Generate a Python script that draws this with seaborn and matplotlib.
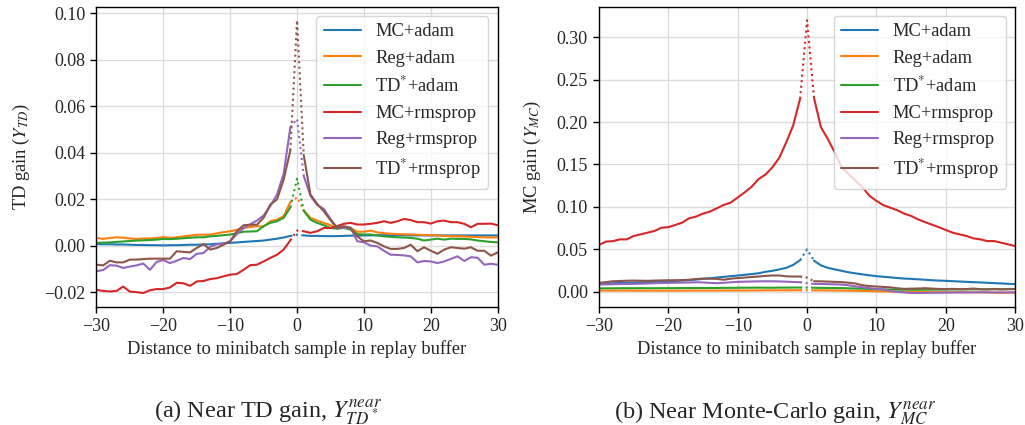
import matplotlib
matplotlib.use("Agg")
import matplotlib.pyplot as plt
import numpy as np
import pandas as pd
import seaborn as sns

# ---------------- data ----------------
distance = list(range(-30, 31))
series_names = ["MC+adam", "Reg+adam", "TD$^{*}$+adam",
                "MC+rmsprop", "Reg+rmsprop", "TD$^{*}$+rmsprop"]

# (a) Near TD gain
td_mc_adam = [0.0007, 0.0006, 0.0006, 0.0005, 0.0005, 0.0004, 0.0003, 0.0003, 0.0002, 0.0002,
              0.0001, 0.0002, 0.0002, 0.0003, 0.0004, 0.0004, 0.0005, 0.0006, 0.0008, 0.0010,
              0.0012, 0.0014, 0.0016, 0.0018, 0.0020, 0.0022, 0.0026, 0.0030, 0.0035, 0.0042,
              0.0047,
              0.0044, 0.0042, 0.0042, 0.0041, 0.0041, 0.0041, 0.0042, 0.0043, 0.0043, 0.0044,
              0.0044, 0.0045, 0.0045, 0.0045, 0.0045, 0.0045, 0.0044, 0.0044, 0.0044, 0.0044,
              0.0044, 0.0044, 0.0044, 0.0044, 0.0044, 0.0044, 0.0044, 0.0044, 0.0044, 0.0044]
td_reg_adam = [0.0033, 0.0029, 0.0033, 0.0036, 0.0034, 0.0031, 0.0029, 0.0031, 0.0031, 0.0033,
               0.0037, 0.0033, 0.0036, 0.0040, 0.0043, 0.0047, 0.0047, 0.0047, 0.0053, 0.0058,
               0.0062, 0.0068, 0.0076, 0.0080, 0.0084, 0.0082, 0.0105, 0.0112, 0.0127, 0.0188,
               0.0208,
               0.0152, 0.0120, 0.0108, 0.0098, 0.0088, 0.0077, 0.0080, 0.0076, 0.0060, 0.0060,
               0.0065, 0.0057, 0.0054, 0.0051, 0.0050, 0.0049, 0.0048, 0.0047, 0.0046, 0.0045,
               0.0044, 0.0042, 0.0041, 0.0040, 0.0040, 0.0038, 0.0037, 0.0036, 0.0035, 0.0036]
td_td_adam = [0.0012, 0.0013, 0.0014, 0.0016, 0.0018, 0.0020, 0.0022, 0.0023, 0.0024, 0.0026,
              0.0029, 0.0028, 0.0030, 0.0032, 0.0034, 0.0036, 0.0036, 0.0040, 0.0042, 0.0045,
              0.0048, 0.0053, 0.0060, 0.0061, 0.0062, 0.0084, 0.0098, 0.0105, 0.0120, 0.0165,
              0.0288,
              0.0150, 0.0112, 0.0098, 0.0088, 0.0076, 0.0073, 0.0076, 0.0069, 0.0050, 0.0048,
              0.0048, 0.0044, 0.0040, 0.0038, 0.0036, 0.0035, 0.0033, 0.0030, 0.0022, 0.0026,
              0.0030, 0.0026, 0.0030, 0.0029, 0.0029, 0.0027, 0.0022, 0.0019, 0.0016, 0.0014]
td_mc_rms = [-0.0190, -0.0195, -0.0197, -0.0195, -0.0176, -0.0198, -0.0200, -0.0204, -0.0192, -0.0187,
             -0.0187, -0.0180, -0.0160, -0.0162, -0.0173, -0.0154, -0.0152, -0.0144, -0.0140, -0.0132,
             -0.0125, -0.0122, -0.0104, -0.0084, -0.0082, -0.0068, -0.0053, -0.0039, -0.0017, 0.0023,
             0.0065,
             0.0062, 0.0055, 0.0062, 0.0076, 0.0076, 0.0084, 0.0094, 0.0098, 0.0091, 0.0091,
             0.0094, 0.0098, 0.0105, 0.0098, 0.0105, 0.0115, 0.0110, 0.0101, 0.0101, 0.0095,
             0.0105, 0.0108, 0.0101, 0.0101, 0.0094, 0.0079, 0.0094, 0.0094, 0.0095, 0.0088]
td_reg_rms = [-0.0110, -0.0105, -0.0084, -0.0086, -0.0096, -0.0090, -0.0085, -0.0077, -0.0104, -0.0070,
              -0.0062, -0.0075, -0.0065, -0.0053, -0.0058, -0.0035, -0.0032, -0.0005, 0.0005, 0.0009,
              0.0019, 0.0050, 0.0075, 0.0092, 0.0108, 0.0130, 0.0170, 0.0220, 0.0310, 0.0510,
              0.0545,
              0.0300, 0.0215, 0.0175, 0.0158, 0.0115, 0.0076, 0.0076, 0.0078, 0.0019, 0.0015,
              0.0000, -0.0003, -0.0022, -0.0039, -0.0040, -0.0042, -0.0046, -0.0072, -0.0066, -0.0068,
              -0.0075, -0.0068, -0.0057, -0.0046, -0.0066, -0.0050, -0.0052, -0.0082, -0.0078, -0.0082]
td_td_rms = [-0.0082, -0.0085, -0.0065, -0.0072, -0.0072, -0.0060, -0.0060, -0.0058, -0.0056, -0.0056,
             -0.0056, -0.0056, -0.0024, -0.0027, -0.0029, -0.0010, 0.0007, -0.0017, -0.0010, 0.0004,
             0.0019, 0.0062, 0.0088, 0.0090, 0.0090, 0.0120, 0.0177, 0.0199, 0.0285, 0.0410,
             0.0970,
             0.0390, 0.0220, 0.0180, 0.0148, 0.0110, 0.0076, 0.0084, 0.0076, 0.0040, 0.0019,
             0.0022, 0.0012, -0.0003, -0.0014, -0.0014, -0.0010, 0.0004, -0.0024, -0.0007, -0.0022,
             -0.0035, -0.0017, -0.0007, -0.0010, -0.0013, -0.0007, -0.0022, -0.0022, -0.0043, -0.0029]

# (b) Near Monte-Carlo gain
mc_mc_adam = [0.0095, 0.0097, 0.0099, 0.0101, 0.0103, 0.0105, 0.0108, 0.0112, 0.0116, 0.0119,
              0.0122, 0.0126, 0.0130, 0.0136, 0.0142, 0.0150, 0.0158, 0.0166, 0.0174, 0.0182,
              0.0190, 0.0198, 0.0207, 0.0216, 0.0233, 0.0245, 0.0262, 0.0280, 0.0315, 0.0370,
              0.0498,
              0.0365, 0.0310, 0.0280, 0.0262, 0.0245, 0.0228, 0.0215, 0.0203, 0.0192, 0.0182,
              0.0175, 0.0168, 0.0160, 0.0154, 0.0150, 0.0145, 0.0140, 0.0134, 0.0130, 0.0127,
              0.0123, 0.0119, 0.0115, 0.0111, 0.0108, 0.0104, 0.0100, 0.0096, 0.0092, 0.0088]
mc_reg_adam = [0.0012, 0.0012, 0.0012, 0.0012, 0.0012, 0.0011, 0.0011, 0.0011, 0.0011, 0.0011,
               0.0011, 0.0011, 0.0011, 0.0012, 0.0012, 0.0012, 0.0012, 0.0012, 0.0013, 0.0013,
               0.0013, 0.0013, 0.0014, 0.0014, 0.0015, 0.0015, 0.0015, 0.0015, 0.0016, 0.0016,
               0.0016,
               0.0015, 0.0015, 0.0014, 0.0013, 0.0012, 0.0011, 0.0010, 0.0008, 0.0006, 0.0004,
               0.0002, 0.0000, -0.0002, -0.0003, -0.0004, -0.0004, -0.0005, -0.0005, -0.0006, -0.0006,
               -0.0006, -0.0007, -0.0007, -0.0008, -0.0009, -0.0010, -0.0012, -0.0014, -0.0013, -0.0012]
mc_td_adam = [0.0038, 0.0039, 0.0039, 0.0040, 0.0040, 0.0040, 0.0041, 0.0040, 0.0040, 0.0041,
              0.0041, 0.0041, 0.0042, 0.0042, 0.0042, 0.0043, 0.0043, 0.0043, 0.0044, 0.0044,
              0.0045, 0.0046, 0.0046, 0.0047, 0.0046, 0.0046, 0.0047, 0.0047, 0.0048, 0.0048,
              0.0048,
              0.0045, 0.0044, 0.0043, 0.0042, 0.0041, 0.0039, 0.0037, 0.0034, 0.0031, 0.0028,
              0.0026, 0.0024, 0.0023, 0.0022, 0.0022, 0.0022, 0.0023, 0.0023, 0.0024, 0.0024,
              0.0025, 0.0026, 0.0026, 0.0027, 0.0027, 0.0028, 0.0028, 0.0029, 0.0030, 0.0030]
mc_mc_rms = [0.0550, 0.0590, 0.0595, 0.0616, 0.0616, 0.0656, 0.0675, 0.0695, 0.0715, 0.0754,
             0.0760, 0.0786, 0.0814, 0.0865, 0.0885, 0.0920, 0.0944, 0.0983, 0.1023, 0.1050,
             0.1110, 0.1170, 0.1236, 0.1327, 0.1380, 0.1465, 0.1580, 0.1760, 0.1960, 0.2275,
             0.3200,
             0.2287, 0.1940, 0.1800, 0.1640, 0.1465, 0.1386, 0.1307, 0.1230, 0.1130, 0.1070,
             0.1020, 0.0990, 0.0960, 0.0920, 0.0893, 0.0853, 0.0820, 0.0790, 0.0760, 0.0727,
             0.0695, 0.0675, 0.0656, 0.0628, 0.0616, 0.0596, 0.0596, 0.0577, 0.0557, 0.0537]
mc_reg_rms = [0.0083, 0.0085, 0.0087, 0.0089, 0.0090, 0.0091, 0.0093, 0.0096, 0.0099, 0.0101,
              0.0103, 0.0105, 0.0106, 0.0108, 0.0110, 0.0108, 0.0103, 0.0099, 0.0104, 0.0110,
              0.0115, 0.0117, 0.0119, 0.0121, 0.0122, 0.0122, 0.0120, 0.0117, 0.0113, 0.0111,
              0.0100,
              0.0091, 0.0090, 0.0088, 0.0086, 0.0083, 0.0075, 0.0062, 0.0051, 0.0040, 0.0030,
              0.0024, 0.0008, -0.0004, -0.0010, -0.0016, -0.0017, -0.0016, -0.0014, -0.0013, -0.0012,
              -0.0011, -0.0010, -0.0010, -0.0009, -0.0008, -0.0009, -0.0010, -0.0010, -0.0009, -0.0008]
mc_td_rms = [0.0103, 0.0112, 0.0122, 0.0125, 0.0128, 0.0130, 0.0128, 0.0127, 0.0130, 0.0132,
             0.0134, 0.0134, 0.0136, 0.0140, 0.0148, 0.0154, 0.0152, 0.0150, 0.0140, 0.0152,
             0.0160, 0.0165, 0.0172, 0.0178, 0.0185, 0.0190, 0.0190, 0.0180, 0.0178, 0.0178,
             0.0165,
             0.0122, 0.0121, 0.0118, 0.0115, 0.0112, 0.0105, 0.0095, 0.0075, 0.0065, 0.0060,
             0.0055, 0.0050, 0.0040, 0.0032, 0.0035, 0.0036, 0.0040, 0.0036, 0.0031, 0.0030,
             0.0032, 0.0028, 0.0030, 0.0036, 0.0028, 0.0025, 0.0031, 0.0025, 0.0028, 0.0030]

td_series = [td_mc_adam, td_reg_adam, td_td_adam, td_mc_rms, td_reg_rms, td_td_rms]
mc_series = [mc_mc_adam, mc_reg_adam, mc_td_adam, mc_mc_rms, mc_reg_rms, mc_td_rms]

ylabels = ["TD gain ($Y_{TD}$)", "MC gain ($Y_{MC}$)"]
xlabel = "Distance to minibatch sample in replay buffer"
captions = ["(a) Near TD gain, $Y^{near}_{TD^*}$",
            "(b) Near Monte-Carlo gain, $Y^{near}_{MC}$"]

# ---------------- style ----------------
sns.set_theme(style="whitegrid")
plt.rcParams["font.family"] = ["Liberation Serif", "DejaVu Serif"]
plt.rcParams["mathtext.fontset"] = "stix"
plt.rcParams["axes.edgecolor"] = "black"
plt.rcParams["axes.linewidth"] = 1.0

palette = sns.color_palette("tab10", 6)

fig = plt.figure(figsize=(10.25, 4.25), dpi=100)
ax_left = fig.add_axes([0.0941, 0.2784, 0.3914, 0.7059])
ax_right = fig.add_axes([0.5844, 0.2784, 0.4059, 0.7059])


def long_frame(values_list):
    rows = []
    for name, vals in zip(series_names, values_list):
        assert len(vals) == len(distance)
        for x, y in zip(distance, vals):
            rows.append({"x": x, "y": y, "series": name})
    return pd.DataFrame(rows)


def draw(ax, values_list, ylabel, label_x):
    df = long_frame(values_list)
    left = df[df["x"] <= -1]
    mid = df[(df["x"] >= -1) & (df["x"] <= 1)]
    right = df[df["x"] >= 1]
    common = dict(x="x", y="y", hue="series", hue_order=series_names,
                  palette=palette, ax=ax, linewidth=1.5, estimator=None)
    sns.lineplot(data=left, legend=True, **common)
    sns.lineplot(data=right, legend=False, **common)
    sns.lineplot(data=mid, legend=False, linestyle=":", **common)
    handles, labels = ax.get_legend_handles_labels()
    ax.legend(handles[:6], labels[:6], loc="upper right", fontsize=13.3,
              frameon=True, fancybox=True, framealpha=0.8, edgecolor="0.8",
              facecolor="white")
    ax.set_xlim(-30, 30)
    ax.set_xticks([-30, -20, -10, 0, 10, 20, 30])
    ax.grid(True, color="#dcdcdc", linewidth=1.0)
    ax.tick_params(direction="out", length=4.5, width=1.0, color="black",
                   labelsize=13, bottom=True, left=True, pad=3.5)
    for sp in ax.spines.values():
        sp.set_color("black")
        sp.set_linewidth(1.0)
    ax.set_xlabel(xlabel, fontsize=13.3)
    ax.set_ylabel(ylabel, fontsize=13.3)
    ax.yaxis.set_label_coords(label_x, 0.5)


draw(ax_left, td_series, ylabels[0], -0.161)
draw(ax_right, mc_series, ylabels[1], -0.1346)

fig.text(268 / 1025, 0.0165, captions[0], fontsize=17.5, ha="center", va="baseline")
fig.text(775 / 1025, 0.0165, captions[1], fontsize=17.5, ha="center", va="baseline")

fig.savefig("out.png", dpi=100)
